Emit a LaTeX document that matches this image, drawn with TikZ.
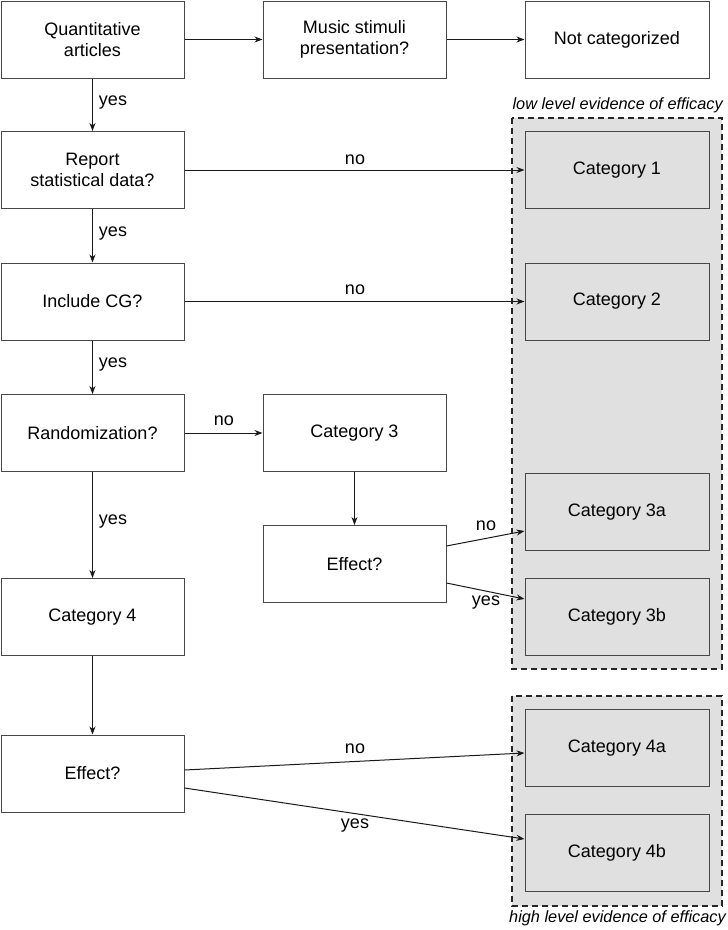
\documentclass[tikz,border=0pt]{standalone}
\usepackage{fontspec}
\setmainfont{Liberation Sans}
\usetikzlibrary{arrows.meta}
\begin{document}
\begin{tikzpicture}[x=1pt,y=-1pt,
  font=\fontsize{18}{21}\selectfont,
  box/.style={draw=black!72,line width=1pt,fill=white,minimum width=183pt,minimum height=77pt,align=center,inner sep=2pt},
  cat/.style={box,fill=black!12,minimum width=184pt},
  grp/.style={draw=black!85,dash pattern=on 6pt off 4pt,line width=1.1pt,fill=black!12},
  arr/.style={-{Stealth[length=8pt,width=6pt,inset=2.5pt]},line width=1pt,draw=black!90},
  lbl/.style={inner sep=1pt},
  note/.style={font=\fontsize{16.3}{19}\selectfont\itshape,anchor=east,inner sep=0pt}]
\useasboundingbox (0,0) rectangle (728,930);
\draw[grp] (512,118) rectangle (722,669);
\draw[grp] (512,696) rectangle (722,906);
\node[note] (lowl) at (723,105) {low level evidence of efficacy};
\node[note] (highl) at (726,918) {high level evidence of efficacy};

\node[box] (q) at (92.5,39.5) {Quantitative\\articles};
\node[box] (m) at (354.5,39.5) {Music stimuli\\presentation?};
\node[box,minimum width=184pt] (nc) at (617,39.5) {Not categorized};
\node[box] (r) at (92.5,170) {Report\\statistical data?};
\node[cat] (c1) at (617,170) {Category 1};
\node[box] (cg) at (92.5,301.5) {Include CG?};
\node[cat] (c2) at (617,301.5) {Category 2};
\node[box] (rand) at (92.5,433) {Randomization?};
\node[box] (c3) at (354.5,433) {Category 3};
\node[box] (e3) at (354.5,564) {Effect?};
\node[cat] (c3a) at (617,512) {Category 3a};
\node[cat] (c3b) at (617,617) {Category 3b};
\node[box] (c4) at (92.5,617) {Category 4};
\node[box] (e4) at (92.5,773.5) {Effect?};
\node[cat] (c4a) at (617,748) {Category 4a};
\node[cat] (c4b) at (617,853) {Category 4b};

\draw[arr] (q) -- (m);
\draw[arr] (m) -- (nc);
\draw[arr] (q) -- (r);
\draw[arr] (r) -- (c1);
\draw[arr] (r) -- (cg);
\draw[arr] (cg) -- (c2);
\draw[arr] (cg) -- (rand);
\draw[arr] (rand) -- (c3);
\draw[arr] (c3) -- (e3);
\draw[arr] (rand) -- (c4);
\draw[arr] (c4) -- (e4);
\draw[arr] ([yshift=18pt]e3.east) -- ([yshift=-19pt]c3a.west);
\draw[arr] ([yshift=-19pt]e3.east) -- ([yshift=18pt]c3b.west);
\draw[arr] ([yshift=3.5pt]e4.east) -- ([yshift=-5pt]c4a.west);
\draw[arr] ([yshift=-14.5pt]e4.east) -- ([yshift=14pt]c4b.west);

\node[lbl] (y1) at (113,103) {yes};
\node[lbl] (y2) at (113,234) {yes};
\node[lbl] (y3) at (113,365) {yes};
\node[lbl] (y4) at (113,522) {yes};
\node[lbl] (n1) at (355,160) {no};
\node[lbl] (n2) at (355,290) {no};
\node[lbl] (n3) at (224,421) {no};
\node[lbl] (n4) at (486,526) {no};
\node[lbl] (y5) at (486,603) {yes};
\node[lbl] (n5) at (355,749) {no};
\node[lbl] (y6) at (355,826) {yes};
\end{tikzpicture}
\end{document}
